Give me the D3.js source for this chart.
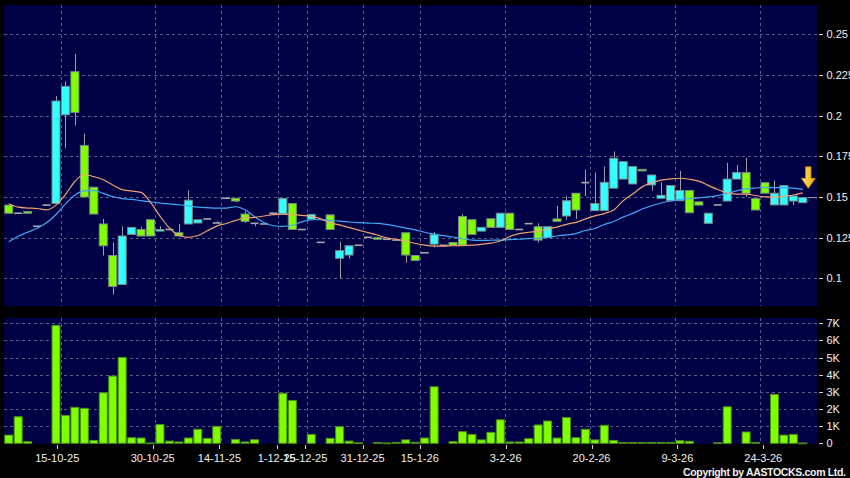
<!DOCTYPE html>
<html><head><meta charset="utf-8">
<script src="https://cdn.jsdelivr.net/npm/d3@7"></script>
<style>html,body{margin:0;padding:0;background:#000;}svg{display:block;}</style>
</head><body>
<svg id="chart" width="850" height="478"></svg>
<script>
// ---- data ----
const opens  = [0.145,0.140,0.141,0.132,0.145,0.146,0.2005,0.227,0.1816,0.156,0.1334,0.114,0.0962,0.127,0.130,0.136,0.129,0.130,0.128,0.1334,0.134,0.1365,0.134,0.1492,0.1492,0.1395,0.1338,0.1334,0.140,0.1395,0.146,0.130,0.1363,0.1221,0.139,0.1123,0.1143,0.1203,0.1252,0.125,0.124,0.1235,0.128,0.114,0.1157,0.121,0.1203,0.122,0.138,0.136,0.129,0.1366,0.1313,0.140,0.130,0.1336,0.1317,0.125,0.1365,0.1383,0.1523,0.1588,0.1416,0.1416,0.1554,0.161,0.158,0.167,0.1574,0.1492,0.1477,0.1477,0.154,0.147,0.1338,0.1451,0.1475,0.161,0.165,0.149,0.1588,0.1451,0.1451,0.1475,0.1465];
const highs  = [0.145,0.140,0.141,0.132,0.145,0.212,0.221,0.238,0.189,0.156,0.1365,0.122,0.132,0.1313,0.1317,0.136,0.132,0.130,0.1334,0.154,0.136,0.1365,0.135,0.1492,0.1492,0.141,0.1338,0.1334,0.140,0.149,0.146,0.130,0.1393,0.1221,0.139,0.1225,0.120,0.1203,0.1252,0.125,0.124,0.1235,0.128,0.114,0.1157,0.1284,0.1203,0.122,0.1395,0.136,0.1313,0.1366,0.140,0.140,0.130,0.1336,0.1338,0.1317,0.1445,0.1506,0.1523,0.167,0.165,0.1687,0.178,0.1717,0.1687,0.167,0.1635,0.159,0.157,0.166,0.154,0.147,0.140,0.1451,0.171,0.1697,0.174,0.149,0.1588,0.160,0.157,0.1506,0.1496];
const lows   = [0.140,0.140,0.140,0.132,0.145,0.146,0.180,0.194,0.150,0.1395,0.114,0.090,0.0962,0.127,0.126,0.126,0.129,0.130,0.126,0.1334,0.134,0.1365,0.134,0.1492,0.1467,0.134,0.132,0.1334,0.140,0.1395,0.130,0.130,0.1363,0.1221,0.130,0.100,0.112,0.1203,0.1252,0.124,0.124,0.1235,0.1095,0.111,0.1157,0.119,0.1203,0.1203,0.1204,0.127,0.129,0.1313,0.1313,0.130,0.130,0.1336,0.122,0.125,0.135,0.136,0.1365,0.1506,0.1416,0.1416,0.1554,0.161,0.158,0.166,0.154,0.1492,0.1477,0.1477,0.1403,0.145,0.1338,0.1451,0.1475,0.161,0.150,0.142,0.1523,0.1451,0.1451,0.145,0.1465];
const closes = [0.140,0.140,0.140,0.132,0.145,0.209,0.218,0.202,0.150,0.1395,0.120,0.095,0.126,0.1313,0.126,0.126,0.130,0.130,0.126,0.148,0.136,0.1365,0.134,0.1492,0.1475,0.135,0.1338,0.1334,0.140,0.149,0.130,0.130,0.1393,0.1221,0.130,0.117,0.120,0.1203,0.1252,0.124,0.124,0.1235,0.1143,0.111,0.1157,0.1268,0.1203,0.1203,0.1204,0.127,0.1313,0.1313,0.140,0.130,0.130,0.1336,0.1235,0.1317,0.135,0.1477,0.142,0.1588,0.146,0.159,0.1738,0.1717,0.1687,0.166,0.1635,0.151,0.157,0.154,0.1403,0.145,0.140,0.1451,0.161,0.165,0.1523,0.142,0.1523,0.1523,0.157,0.1506,0.1496];
const volumes = [480,1550,100,0,0,6880,1630,2100,2040,170,2950,3920,5010,330,310,20,1100,130,80,310,820,290,990,0,230,80,210,0,0,2920,2500,0,520,0,290,970,130,30,0,50,20,50,200,60,310,3300,0,100,680,520,200,640,1370,80,80,270,1070,1300,310,1500,330,820,200,1050,170,50,50,50,50,50,50,150,120,0,0,30,2130,0,660,50,0,2860,480,520,20];
const maShort = [0.1458,0.1437,0.1432,0.1429,0.1421,0.1450,0.1515,0.1595,0.1638,0.1625,0.1606,0.1574,0.1545,0.1537,0.1528,0.1467,0.1382,0.1309,0.1263,0.1252,0.1263,0.1292,0.1321,0.1337,0.1356,0.1371,0.1374,0.1383,0.1392,0.1395,0.1392,0.1387,0.1381,0.1365,0.1341,0.1328,0.1312,0.1296,0.1281,0.1266,0.1248,0.1240,0.1229,0.1214,0.1204,0.1198,0.1198,0.1200,0.1201,0.1204,0.1209,0.1216,0.1229,0.1257,0.1275,0.1283,0.1289,0.1303,0.1315,0.1332,0.1344,0.1365,0.1384,0.1398,0.1420,0.1477,0.1518,0.1562,0.1587,0.1603,0.1611,0.1615,0.1609,0.1597,0.1571,0.1546,0.1525,0.1518,0.1517,0.1509,0.1501,0.1499,0.1505,0.1512,0.1525];
const maLong = [0.1225,0.1259,0.1283,0.1308,0.1341,0.1392,0.1458,0.1511,0.1537,0.1540,0.1522,0.1503,0.1490,0.1485,0.1477,0.1469,0.1463,0.1457,0.1452,0.1445,0.1438,0.1434,0.1431,0.1432,0.1440,0.1421,0.1378,0.1343,0.1323,0.1319,0.1326,0.1347,0.1360,0.1360,0.1355,0.1352,0.1346,0.1342,0.1339,0.1338,0.1331,0.1320,0.1309,0.1298,0.1283,0.1272,0.1262,0.1254,0.1243,0.1235,0.1233,0.1234,0.1235,0.1238,0.1240,0.1244,0.1246,0.1252,0.1260,0.1267,0.1275,0.1294,0.1306,0.1331,0.1349,0.1376,0.1399,0.1426,0.1446,0.1463,0.1475,0.1485,0.1490,0.1494,0.1500,0.1508,0.1522,0.1537,0.1550,0.1555,0.1557,0.1557,0.1557,0.1554,0.1547];
const priceTicks = [0.1,0.125,0.15,0.175,0.2,0.225,0.25];
const priceTickLabels = ["0.1","0.125","0.15","0.175","0.2","0.225","0.25"];
const volTicks = [0,1000,2000,3000,4000,5000,6000,7000];
const volTickLabels = ["0","1K","2K","3K","4K","5K","6K","7K"];
const dateTickIndex = [5.5,15.5,22.5,28.5,31.5,37.5,43.5,52.5,61.5,70.5,79.5];
const dateTickLabels = ["15-10-25","30-10-25","14-11-25","1-12-25","15-12-25","31-12-25","15-1-26","3-2-26","20-2-26","9-3-26","24-3-26"];

// ---- layout ----
const W = 850, H = 478;
const P = {left:4, right:817, top:5, bottom:306};     // price panel
const V = {left:4, right:817, top:318, bottom:444};   // volume panel
const FONT = "'Liberation Sans', Arial, sans-serif";
const BG = "#000045", GRID = "#5a5a88";
const UP = "#33ffff", DOWN = "#80ff00", FLAT = "#a8a8a8";

const svg = d3.select("#chart");
svg.append("rect").attr("width",W).attr("height",H).attr("fill","#000");

const n = closes.length;
const x = d3.scaleLinear().domain([-0.5, n + 0.5]).range([P.left, P.right]);
const xLab = d3.scaleLinear().domain([-0.5, n + 0.5]).range([0, 820.5]);
const yP = d3.scaleLinear().domain([0.1, 0.25]).range([278.3, 34.3]);
const yV = d3.scaleLinear().domain([0, 7000]).range([443.3, 323.3]);
const bw = 8;

// panels
[P, V].forEach(p => svg.append("rect").attr("x",p.left).attr("y",p.top)
  .attr("width",p.right-p.left).attr("height",p.bottom-p.top).attr("fill",BG));

// grids
const g = svg.append("g").attr("stroke",GRID).attr("stroke-width",1).attr("stroke-dasharray","3,3").attr("fill","none");
priceTicks.forEach(t => g.append("line").attr("x1",P.left).attr("x2",P.right)
  .attr("y1",Math.round(yP(t))+0.5).attr("y2",Math.round(yP(t))+0.5));
volTicks.slice(1).forEach(t => g.append("line").attr("x1",V.left).attr("x2",V.right)
  .attr("y1",Math.round(yV(t))+0.5).attr("y2",Math.round(yV(t))+0.5));
dateTickIndex.forEach(t => {
  const xx = Math.round(x(t))+0.5;
  g.append("line").attr("x1",xx).attr("x2",xx).attr("y1",P.top).attr("y2",P.bottom);
  g.append("line").attr("x1",xx).attr("x2",xx).attr("y1",V.top).attr("y2",V.bottom);
});

// candles
const idx = d3.range(n);
const cg = svg.append("g");
idx.forEach(i => {
  const o = opens[i], c = closes[i], h = highs[i], l = lows[i];
  const cx = x(i);
  if (h > l) {
    cg.append("line").attr("x1",Math.round(cx)+0.5).attr("x2",Math.round(cx)+0.5)
      .attr("y1",yP(h)).attr("y2",yP(l)).attr("stroke","#a0a0a0").attr("stroke-width",1);
  }
  if (o === c) {
    cg.append("line").attr("x1",cx-bw/2).attr("x2",cx+bw/2)
      .attr("y1",yP(c)).attr("y2",yP(c)).attr("stroke",FLAT).attr("stroke-width",1.6);
  } else {
    const top = yP(Math.max(o,c)), bot = yP(Math.min(o,c));
    cg.append("rect").attr("x",cx-bw/2).attr("y",top).attr("width",bw)
      .attr("height",Math.max(1.5,bot-top))
      .attr("fill", c > o ? UP : DOWN).attr("stroke","#7a8a8a").attr("stroke-width",1);
  }
});

// moving averages
const line = d3.line().x((d,i)=>x(i)).y(d=>yP(d)).curve(d3.curveMonotoneX);
svg.append("path").datum(maLong).attr("d",line).attr("fill","none")
  .attr("stroke","#3fa9f5").attr("stroke-width",1.2);
svg.append("path").datum(maShort).attr("d",line).attr("fill","none")
  .attr("stroke","#f0a070").attr("stroke-width",1.2);

// last price line
svg.append("line").attr("x1",x(n-1)+bw/2+1).attr("x2",P.right)
  .attr("y1",yP(closes[n-1])).attr("y2",yP(closes[n-1])).attr("stroke","#a0a0a0").attr("stroke-width",1);

// yellow arrow
const defs = svg.append("defs");
const grad = defs.append("linearGradient").attr("id","gold").attr("x1",0).attr("x2",1).attr("y1",0).attr("y2",0);
grad.append("stop").attr("offset","0%").attr("stop-color","#ffe680");
grad.append("stop").attr("offset","100%").attr("stop-color","#f0a800");
const tx = x(n-1) + 5.5, ty = yP(maLong[n-1]) - 1;
svg.append("path")
  .attr("d",`M${tx},${ty} L${tx-7},${ty-10} L${tx-2.7},${ty-10} L${tx-2.7},${ty-21.5} L${tx+2.7},${ty-21.5} L${tx+2.7},${ty-10} L${tx+7},${ty-10} Z`)
  .attr("fill","url(#gold)").attr("stroke","#c88a00").attr("stroke-width",0.8);

// volume bars
svg.append("g").selectAll("rect").data(idx.filter(i=>volumes[i]>0)).join("rect")
  .attr("x",i=>x(i)-bw/2).attr("width",bw)
  .attr("y",i=>yV(volumes[i])).attr("height",i=>Math.max(0.8,yV(0)-yV(volumes[i])))
  .attr("fill",DOWN).attr("stroke","#4c8a1a").attr("stroke-width",1);

// right axes
const ax = svg.append("g").attr("font-family",FONT).attr("font-size",11).attr("fill","#f0f0f0");
priceTicks.forEach((t,k) => {
  const yy = Math.round(yP(t))+0.5;
  ax.append("line").attr("x1",819).attr("x2",823).attr("y1",yy).attr("y2",yy).attr("stroke","#d0d0d0");
  ax.append("text").attr("x",826.5).attr("y",yy).attr("dy","0.36em").text(priceTickLabels[k]);
});
volTicks.forEach((t,k) => {
  const yy = Math.round(yV(t))+0.5;
  ax.append("line").attr("x1",819).attr("x2",823).attr("y1",yy).attr("y2",yy).attr("stroke","#d0d0d0");
  ax.append("text").attr("x",826.5).attr("y",yy).attr("dy","0.36em").text(volTickLabels[k]);
});

// bottom axis
dateTickIndex.forEach((t,k) => {
  const xx = Math.round(xLab(t))+0.5;
  ax.append("line").attr("x1",xx).attr("x2",xx).attr("y1",445).attr("y2",449).attr("stroke","#d0d0d0");
  ax.append("text").attr("x",xLab(t)).attr("y",462).attr("text-anchor","middle").text(dateTickLabels[k]);
});

// copyright
svg.append("text").attr("x",846).attr("y",476).attr("text-anchor","end")
  .attr("font-family",FONT).attr("font-size",10.5).attr("font-weight","bold").attr("fill","#f0f0f0")
  .attr("textLength",163).attr("lengthAdjust","spacing")
  .text("Copyright by AASTOCKS.com Ltd.");
</script>
</body></html>
